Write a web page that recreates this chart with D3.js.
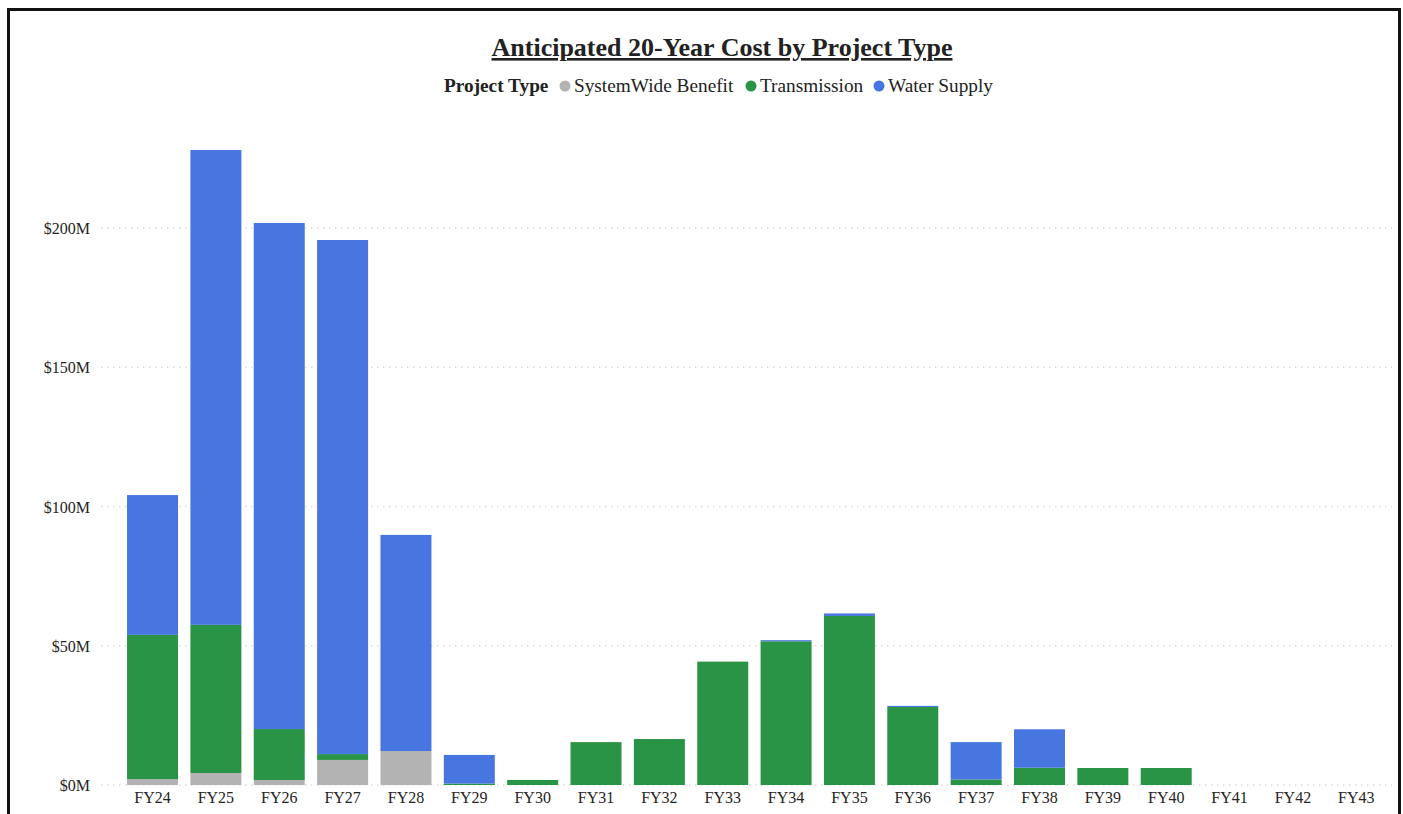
<!DOCTYPE html>
<html>
<head>
<meta charset="utf-8">
<script src="https://cdn.jsdelivr.net/npm/d3@7"></script>
<style>
  html, body { margin: 0; padding: 0; background: #fff; }
  svg { display: block; }
</style>
</head>
<body>
<svg id="chart" width="1403" height="814"></svg>
<script>
const categories = ["FY24","FY25","FY26","FY27","FY28","FY29","FY30","FY31","FY32","FY33","FY34","FY35","FY36","FY37","FY38","FY39","FY40","FY41","FY42","FY43"];
const seriesNames = ["SystemWide Benefit","Transmission","Water Supply"];
const systemWide  = [2.1, 4.3, 1.8, 9.0, 12.2, 0, 0, 0, 0, 0, 0, 0, 0, 0, 0, 0, 0, 0, 0, 0];
const transmission = [51.8, 53.2, 18.3, 2.1, 0, 0.5, 1.8, 15.4, 16.5, 44.3, 51.6, 60.7, 28.0, 2.0, 6.2, 6.1, 6.1, 0, 0, 0];
const waterSupply = [50.2, 170.5, 181.7, 184.6, 77.6, 10.3, 0, 0, 0, 0, 0.4, 0.9, 0.4, 13.4, 13.8, 0, 0, 0, 0, 0];
const yTicks = [0, 50, 100, 150, 200];
const colors = ["#B3B3B3", "#2A9446", "#4876E1"];
const title = "Anticipated 20-Year Cost by Project Type";
const legendTitle = "Project Type";

const svg = d3.select("#chart");
const font = "'Liberation Serif', 'Times New Roman', serif";

// frame
svg.append("path")
  .attr("d", "M8.5,814 L8.5,9.5 L1399.5,9.5 L1399.5,814")
  .attr("fill", "none").attr("stroke", "#111").attr("stroke-width", 3);

const data = categories.map((c, i) => ({
  cat: c,
  "SystemWide Benefit": systemWide[i],
  "Transmission": transmission[i],
  "Water Supply": waterSupply[i]
}));
const stacked = d3.stack().keys(seriesNames)(data);

const x = d3.scaleBand().domain(categories).range([120.7, 1388.1]).paddingInner(0.195).paddingOuter(0.1);
const y = d3.scaleLinear().domain([0, 200]).range([785, 228]);

// gridlines
svg.append("g").selectAll("line").data(yTicks).join("line")
  .attr("x1", 101).attr("x2", 1392)
  .attr("y1", d => y(d)).attr("y2", d => y(d))
  .attr("stroke", "#d9d9d9").attr("stroke-width", 1.3)
  .attr("stroke-dasharray", "1.5,4.5");

// y axis labels
const yAxis = d3.axisLeft(y).tickValues(yTicks).tickSize(0).tickPadding(0)
  .tickFormat(d => "$" + d + "M");
const gy = svg.append("g").attr("transform", "translate(90,0)").call(yAxis);
gy.select(".domain").remove();
gy.selectAll("text").attr("font-family", font).attr("font-size", 16).attr("fill", "#252423")
  .attr("dy", "0.35em");

// x axis labels
const xAxis = d3.axisBottom(x).tickSize(0).tickPadding(0);
const gx = svg.append("g").attr("transform", "translate(0,792)").call(xAxis);
gx.select(".domain").remove();
gx.selectAll("text").attr("font-family", font).attr("font-size", 16).attr("fill", "#252423")
  .attr("dy", "0.71em");

// bars
svg.append("g").selectAll("g").data(stacked).join("g")
  .attr("fill", (d, i) => colors[i])
  .selectAll("rect").data(d => d.filter(s => s[1] - s[0] > 0)).join("rect")
  .attr("x", d => x(d.data.cat))
  .attr("width", x.bandwidth())
  .attr("y", d => y(d[1]))
  .attr("height", d => Math.max(0, y(d[0]) - y(d[1])));

// title
svg.append("text")
  .attr("x", 722).attr("y", 56)
  .attr("text-anchor", "middle")
  .attr("font-family", font).attr("font-size", 26).attr("font-weight", "bold")
  .attr("fill", "#222")
  .attr("text-decoration", "underline")
  .text(title);

// legend
const lg = svg.append("g").attr("transform", "translate(444,92)");
lg.append("text").attr("x", 0).attr("y", 0)
  .attr("font-family", font).attr("font-size", 19.3).attr("font-weight", "bold").attr("fill", "#222")
  .text(legendTitle);
const legendX = [121, 307, 435];
seriesNames.forEach((s, i) => {
  lg.append("circle").attr("cx", legendX[i]).attr("cy", -6).attr("r", 5.5).attr("fill", colors[i]);
  lg.append("text").attr("x", legendX[i] + 9).attr("y", 0)
    .attr("font-family", font).attr("font-size", 19.3).attr("fill", "#222")
    .text(s);
});
</script>
</body>
</html>
